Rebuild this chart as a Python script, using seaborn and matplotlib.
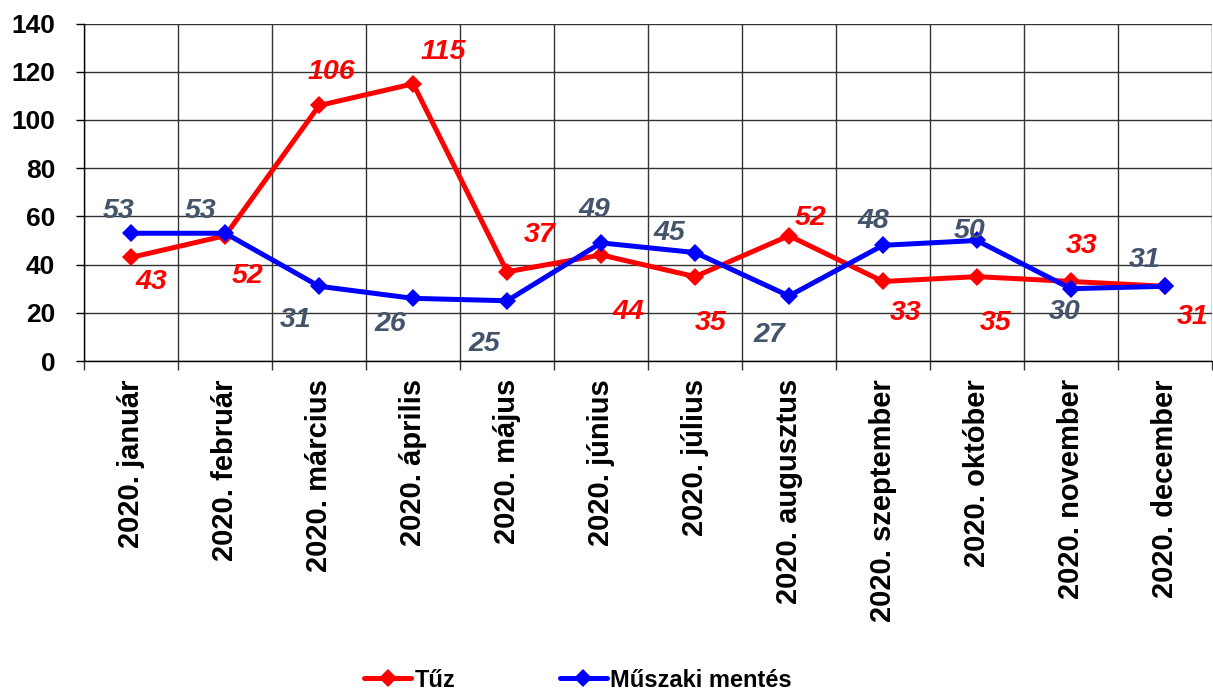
import numpy as np
import pandas as pd
import matplotlib
matplotlib.use("Agg")
import matplotlib.pyplot as plt
import seaborn as sns
from matplotlib.lines import Line2D

# Data
months = ["2020. január", "2020. február", "2020. március", "2020. április",
          "2020. május", "2020. június", "2020. július", "2020. augusztus",
          "2020. szeptember", "2020. október", "2020. november", "2020. december"]
tuz = [43, 52, 106, 115, 37, 44, 35, 52, 33, 35, 33, 31]
muszaki = [53, 53, 31, 26, 25, 49, 45, 27, 48, 50, 30, 31]
series_names = ["Tűz", "Műszaki mentés"]

# label offsets (pixels right, pixels down) from each point
tuz_offsets = [(20, 25), (22, 40), (12, -33), (30, -32), (33, -37), (27, 57),
               (16, 46), (22, -18), (23, 32), (19, 46), (11, -35), (28, 31)]
muszaki_offsets = [(-13, -22), (-25, -22), (-24, 34), (-23, 26), (-23, 43), (-7, -33),
                   (-26, -20), (-20, 39), (-10, -24), (-7, -9), (-6, 23), (-20, -26)]

colors = {"Tűz": "#FF0000", "Műszaki mentés": "#0000FF"}
label_colors = {"Tűz": "#FF0000", "Műszaki mentés": "#44546A"}

df = pd.DataFrame({
    "Hónap": months * 2,
    "Érték": tuz + muszaki,
    "Típus": [series_names[0]] * len(months) + [series_names[1]] * len(months),
})

sns.set_theme(style="white")
plt.rcParams["font.family"] = ["Liberation Sans", "DejaVu Sans"]
plt.rcParams["font.weight"] = "bold"
plt.rcParams["text.color"] = "black"
plt.rcParams["xtick.color"] = "black"
plt.rcParams["ytick.color"] = "black"

fig = plt.figure(figsize=(12.13, 6.92), dpi=100)
ax = fig.add_axes([0.0695, 0.4783, 0.9295, 0.4877])

sns.lineplot(data=df, x="Hónap", y="Érték", hue="Típus", style="Típus",
             palette=colors, markers={n: "D" for n in series_names}, dashes=False,
             markersize=9, markeredgewidth=0, linewidth=3.6, sort=False,
             legend=False, ax=ax)

ax.set_xlim(-0.5, len(months) - 0.5)
ax.set_ylim(0, 140)
ax.set_yticks(range(0, 141, 20))
ax.set_xticks(range(len(months)))
ax.set_xticks(np.arange(-0.5, len(months), 1), minor=True)
ax.set_xticklabels(months, rotation=90, fontsize=21, fontweight="bold",
                   ha="center", va="top", color="black")
ax.tick_params(axis="y", labelsize=19, length=6, width=1, color="black",
               labelcolor="black", pad=15, left=True)
ax.tick_params(axis="x", which="major", length=0, pad=13)
ax.tick_params(axis="x", which="minor", length=6.5, width=1, color="#333333", bottom=True)
ax.grid(axis="y", which="major", color="#333333", linewidth=1)
ax.grid(axis="x", which="minor", color="#333333", linewidth=1)
ax.set_xlabel("")
ax.set_ylabel("")
for s in ["top", "right"]:
    ax.spines[s].set_visible(False)
for s in ["left", "bottom"]:
    ax.spines[s].set_color("black")
    ax.spines[s].set_linewidth(1)

# value labels
for name, vals, offs in [(series_names[0], tuz, tuz_offsets),
                         (series_names[1], muszaki, muszaki_offsets)]:
    for i, (v, (dx, dy)) in enumerate(zip(vals, offs)):
        ax.annotate(str(v), (i, v), xytext=(dx, -dy), textcoords="offset pixels",
                    ha="center", va="center", color=label_colors[name],
                    fontsize=20.5, fontstyle="italic", fontweight="bold",
                    annotation_clip=False)

handles = [Line2D([], [], color=colors[n], lw=3.6, marker="D", markersize=9,
                  markeredgewidth=0) for n in series_names]
fig.legend(handles, series_names, loc="center", bbox_to_anchor=(0.4765, 0.0173),
           ncol=2, frameon=False, fontsize=17, handlelength=2.0,
           handletextpad=0.15, columnspacing=4.4, labelcolor="black")

fig.savefig("out.png", dpi=100)
